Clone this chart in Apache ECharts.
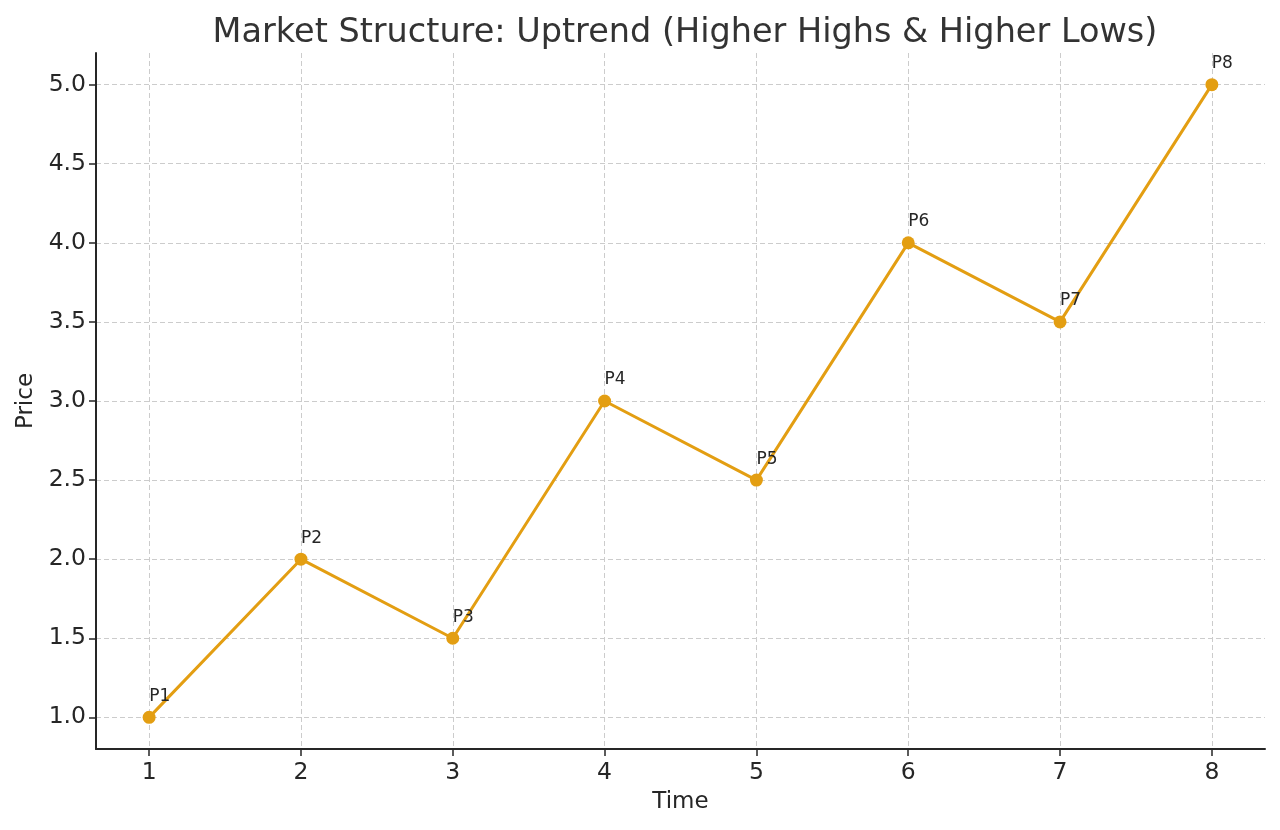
<!DOCTYPE html>
<html><head><meta charset="utf-8">
<script src="https://cdn.jsdelivr.net/npm/echarts@6/dist/echarts.min.js"></script>
<style>html,body{margin:0;padding:0;background:#fff}#c{width:1280px;height:830px}</style>
</head><body><div id="c"></div>
<script>
const times = [1, 2, 3, 4, 5, 6, 7, 8];
const prices = [1.0, 2.0, 1.5, 3.0, 2.5, 4.0, 3.5, 5.0];
const pointLabels = ['P1','P2','P3','P4','P5','P6','P7','P8'];
const xTicks = [1, 2, 3, 4, 5, 6, 7, 8];
const yTicks = [1.0, 1.5, 2.0, 2.5, 3.0, 3.5, 4.0, 4.5, 5.0];

const font = 'DejaVu Sans';
const chart = echarts.init(document.getElementById('c'));
chart.setOption({
  animation: false,
  title: {text: 'Market Structure: Uptrend (Higher Highs & Higher Lows)', left: 680, textAlign: 'center', top: 11,
    textStyle: {fontFamily: font, fontSize: 33.5, fontWeight: 'normal', color: '#333333'}},
  grid: {left: 96, right: 15, top: 53, bottom: 81, containLabel: false, outerBoundsMode: 'none'},
  xAxis: {type: 'value', min: 0.65, max: 8.35, name: 'Time', nameLocation: 'middle', nameGap: 42,
    nameTextStyle: {fontFamily: font, fontSize: 23, color: '#262626'},
    axisLine: {lineStyle: {color: '#262626', width: 2}},
    axisTick: {show: true, customValues: xTicks, length: 7, lineStyle: {color: '#262626', width: 1.5}},
    axisLabel: {customValues: xTicks, fontFamily: font, fontSize: 23.5, color: '#262626', margin: 12},
    splitLine: {show: true, lineStyle: {color: '#cccccc', type: [5, 3], width: 1}}},
  yAxis: {type: 'value', min: 0.8, max: 5.2, name: 'Price', nameLocation: 'middle', nameGap: 55,
    nameTextStyle: {fontFamily: font, fontSize: 23, color: '#262626'},
    axisLine: {show: true, lineStyle: {color: '#262626', width: 2}},
    axisTick: {show: true, customValues: yTicks, length: 7, lineStyle: {color: '#262626', width: 1.5}},
    axisLabel: {customValues: yTicks, fontFamily: font, fontSize: 23.5, color: '#262626', margin: 10,
      formatter: v => v.toFixed(1)},
    splitLine: {show: true, lineStyle: {color: '#cccccc', type: [5, 3], width: 1}}},
  series: [{
    type: 'line',
    data: times.map((t, i) => [t, prices[i]]),
    symbol: 'circle', symbolSize: 13,
    lineStyle: {color: '#E39E12', width: 3},
    itemStyle: {color: '#E39E12'},
    label: {show: true, position: 'top', align: 'left', distance: 6,
      formatter: p => pointLabels[p.dataIndex],
      fontFamily: font, fontSize: 17, color: '#262626'},
    clip: false
  }]
});
</script></body></html>
